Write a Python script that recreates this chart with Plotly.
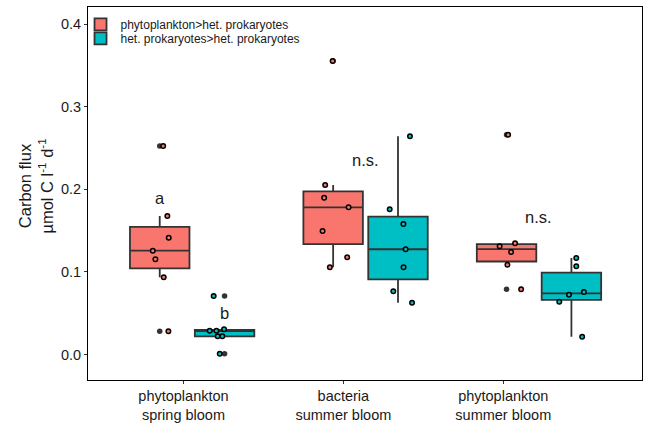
import numpy as np
import plotly.graph_objects as go

# ---------------- data ----------------
categories = ["phytoplankton<br>spring bloom", "bacteria<br>summer bloom", "phytoplankton<br>summer bloom"]
series_names = ["phytoplankton>het. prokaryotes", "het. prokaryotes>het. prokaryotes"]

phyto_values = [
    [0.2524, 0.1677, 0.1414, 0.1257, 0.1152, 0.0934, 0.0281],
    [0.3553, 0.2052, 0.1899, 0.1782, 0.1495, 0.1177, 0.1056],
    [0.2661, 0.1346, 0.1310, 0.1241, 0.1087, 0.0789],
]
hetpro_values = [
    [0.0708, 0.0305, 0.0288, 0.0288, 0.0220, 0.0220, 0.0008],
    [0.2642, 0.1758, 0.1580, 0.1274, 0.1056, 0.0765, 0.0627],
    [0.1168, 0.1068, 0.0757, 0.0724, 0.0639, 0.0215],
]
# horizontal jitter of each point (fraction of group spacing)
phyto_jitter = [
    [0.020, 0.044, 0.052, -0.040, -0.025, 0.023, 0.050],
    [-0.003, -0.046, -0.052, 0.089, -0.061, 0.081, -0.019],
    [0.009, 0.049, -0.040, 0.026, 0.005, 0.084],
]
hetpro_jitter = [
    [-0.063, -0.003, -0.086, -0.047, -0.040, -0.013, -0.028],
    [0.069, -0.048, 0.031, 0.044, 0.032, -0.027, 0.081],
    [0.028, 0.028, 0.072, -0.014, -0.070, 0.062],
]
sig_labels = ["a", "b", "n.s.", "n.s."]
y_ticks = [0.0, 0.1, 0.2, 0.3, 0.4]

# ---------------- layout constants ----------------
colors = ["#F8766D", "#00BFC4"]
dodge = 0.187
box_w = 0.343
tick_pos = [-0.050, 0.872, 1.794]
font_family = "Liberation Sans, Arial, sans-serif"


def box_stats(vals):
    v = np.sort(np.asarray(vals, float))
    q1, med, q3 = np.percentile(v, [25, 50, 75])
    iqr = q3 - q1
    lo, hi = q1 - 1.5 * iqr, q3 + 1.5 * iqr
    inside = v[(v >= lo) & (v <= hi)]
    out = v[(v < lo) | (v > hi)]
    return q1, med, q3, inside.min(), inside.max(), out


fig = go.Figure()
all_series = [phyto_values, hetpro_values]
all_jitter = [phyto_jitter, hetpro_jitter]

for s, (name, vals_list) in enumerate(zip(series_names, all_series)):
    off = -dodge if s == 0 else dodge
    xs, q1s, meds, q3s, los, his = [], [], [], [], [], []
    for g, vals in enumerate(vals_list):
        q1, med, q3, lo, hi, out = box_stats(vals)
        xs.append(g + off); q1s.append(q1); meds.append(med); q3s.append(q3)
        los.append(lo); his.append(hi)
    fig.add_trace(go.Box(
        name=name, x=xs, q1=q1s, median=meds, q3=q3s,
        lowerfence=los, upperfence=his, width=box_w,
        fillcolor=colors[s], line=dict(color="#333333", width=1.8),
        boxpoints=False, whiskerwidth=0,
        legend="legend" if s == 0 else "legend2",
    ))

# outliers (grey, at box centre)
ox, oy = [], []
for s, vals_list in enumerate(all_series):
    off = -dodge if s == 0 else dodge
    for g, vals in enumerate(vals_list):
        out = box_stats(vals)[5]
        ox += [g + off] * len(out)
        oy += list(out)
fig.add_trace(go.Scatter(x=ox, y=oy, mode="markers", showlegend=False,
                         marker=dict(color="#333333", size=5.5, line=dict(width=0))))

# jittered points
for s, vals_list in enumerate(all_series):
    off = -dodge if s == 0 else dodge
    jx, jy = [], []
    for g, vals in enumerate(vals_list):
        jx += [g + off + j for j in all_jitter[s][g]]
        jy += list(vals)
    fig.add_trace(go.Scatter(x=jx, y=jy, mode="markers", showlegend=False,
                             marker=dict(color=colors[s], size=4.5,
                                         line=dict(color="black", width=1.5))))

# significance letters
sig_pos = [(0 - dodge, 0.189), (0 + dodge, 0.0506), (1.0, 0.2354), (2.0, 0.166)]
for lab, (x, y) in zip(sig_labels, sig_pos):
    fig.add_annotation(x=x, y=y, text=lab, showarrow=False,
                       font=dict(size=16.5, color="#1a1a1a", family=font_family),
                       xanchor="center", yanchor="middle")

# y-axis title
fig.add_annotation(xref="paper", yref="paper", x=-0.0947, y=0.52,
                   text="Carbon flux<br>µmol C l<sup>-1</sup> d<sup>-1</sup>",
                   textangle=-90, showarrow=False, xanchor="center", yanchor="middle",
                   font=dict(size=16.5, color="#1a1a1a", family=font_family))

fig.update_layout(
    width=647, height=428,
    margin=dict(l=88, r=5, t=7, b=48, autoexpand=False),
    paper_bgcolor="white", plot_bgcolor="white",
    boxmode="overlay",
    font=dict(family=font_family, color="#1a1a1a"),
    legend=dict(x=-0.0135, y=0.9536, xanchor="left", yanchor="middle",
                font=dict(size=12, color="#1a1a1a"), bgcolor="rgba(0,0,0,0)"),
    legend2=dict(x=-0.0135, y=0.916, xanchor="left", yanchor="middle",
                 font=dict(size=12, color="#1a1a1a"), bgcolor="rgba(0,0,0,0)"),
    xaxis=dict(range=[-0.6006, 2.594], tickvals=tick_pos, ticktext=categories,
               showgrid=False, zeroline=False, showline=True, mirror=True,
               linecolor="black", linewidth=1, ticks="outside", ticklen=3,
               tickcolor="#333333", tickfont=dict(size=14.5, color="#1a1a1a"),
               automargin=False),
    yaxis=dict(range=[-0.0309, 0.4207], tickvals=y_ticks, tickformat=".1f",
               showgrid=False, zeroline=False, showline=True, mirror=True,
               linecolor="black", linewidth=1, ticks="outside", ticklen=3,
               tickcolor="#333333", tickfont=dict(size=14.5, color="#1a1a1a"),
               automargin=False),
)

fig.write_html("out.html", config={"displayModeBar": False},
               post_script="document.body.style.margin='0px';")
